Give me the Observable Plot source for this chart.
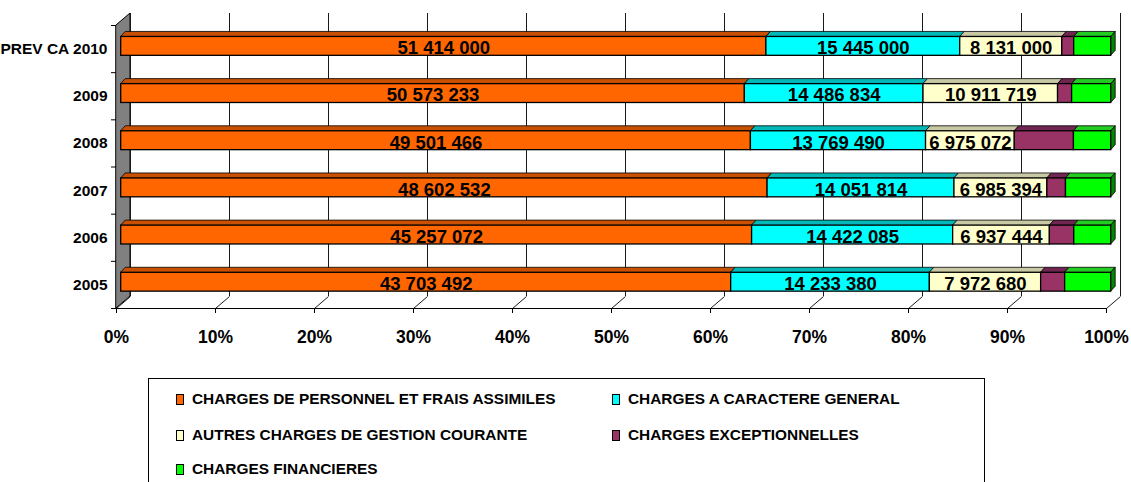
<!DOCTYPE html>
<html><head><meta charset="utf-8">
<script src="https://cdn.jsdelivr.net/npm/d3@7"></script>
<script src="https://cdn.jsdelivr.net/npm/@observablehq/plot@0.6"></script>
<style>
body{margin:0;background:#fff;}
#wrap{position:relative;width:1131px;height:482px;overflow:hidden;font-family:"Liberation Sans",Arial,sans-serif;}
#chart{position:absolute;left:0;top:0;}
#legend{position:absolute;left:148px;top:378px;width:837px;height:140px;border:1px solid #000;box-sizing:border-box;}
.item{position:absolute;display:flex;align-items:center;font-weight:bold;font-size:15.4px;white-space:nowrap;color:#000;height:16px;}
.sw{width:8px;height:11px;border:1px solid #000;margin-right:8px;box-sizing:border-box;flex:none;}
</style></head><body><div id="wrap"><div id="chart"></div><div id="legend"></div></div>
<script>
// ---- data ----
const categories = ["2005", "2006", "2007", "2008", "2009", "PREV CA 2010"];
const seriesNames = [
  "CHARGES DE PERSONNEL ET FRAIS ASSIMILES",
  "CHARGES A CARACTERE GENERAL",
  "AUTRES CHARGES DE GESTION COURANTE",
  "CHARGES EXCEPTIONNELLES",
  "CHARGES FINANCIERES"
];
const personnel      = [43703492, 45257072, 48602532, 49501466, 50573233, 51414000];
const caractereGen   = [14233380, 14422085, 14051814, 13769490, 14486834, 15445000];
const autresCharges  = [7972680, 6937444, 6985394, 6975072, 10911719, 8131000];
const exceptionnelles = [1720000, 1750000, 1400000, 4650000, 1140000, 950000];   // estimated (unlabelled)
const financieres    = [3300000, 2650000, 3400000, 2930000, 3170000, 2950000];   // estimated (unlabelled)
const labelled = [true, true, true, false, false];
const xTicks = [0, 10, 20, 30, 40, 50, 60, 70, 80, 90, 100];

const frontColors = ["#FF6600", "#00FFFF", "#FFFFCC", "#993366", "#00FF00"];
const topColors   = ["#C85000", "#00B8B8", "#C8C8A4", "#702650", "#22CC22"];
const sideGreen   = "#008800";

// ---- geometry ----
const W = 1131, H = 370, mL = 116, mR = 25, mT = 25, mB = 62;
const kx = (W - mL - mR) / 100;   // px per percent
const ky = (H - mT - mB) / 6;     // px per category unit
const WDX = 14 / kx, WDY = 12 / ky;    // wall depth
const BDX = 4.5 / kx, BDY = 5 / ky;    // bar depth
const BFX = 4.7, BFY = -2.7;           // bar front plane offset (px)
const hh = 0.2;                        // half bar height (category units)

const seriesVals = [personnel, caractereGen, autresCharges, exceptionnelles, financieres];
const segs = [];
categories.forEach((c, i) => {
  const total = d3.sum(seriesVals, s => s[i]);
  let acc = 0;
  seriesVals.forEach((s, k) => {
    const a = acc / total * 100;
    acc += s[i];
    const b = acc / total * 100;
    segs.push({i, k, a, b, v: s[i]});
  });
});
const topPts = segs.flatMap(d => [
  {key: d.i + "-" + d.k, k: d.k, y: d.i + hh, x1: d.a, x2: d.b},
  {key: d.i + "-" + d.k, k: d.k, y: d.i + hh + BDY, x1: d.a + BDX, x2: d.b + BDX}
]);
const sidePts = categories.flatMap((c, i) => [
  {i, x: 100, y1: i - hh, y2: i + hh},
  {i, x: 100 + BDX, y1: i - hh + BDY, y2: i + hh + BDY}
]);
const fmt = v => d3.format(",")(v).replace(/,/g, " ");
const boundaries = d3.range(7).map(j => j - 0.5);
const FONT = '"Liberation Sans",Arial,sans-serif';

const chart = Plot.plot({
  width: W, height: H,
  marginLeft: mL, marginRight: mR, marginTop: mT, marginBottom: mB,
  x: {domain: [0, 100], axis: null},
  y: {domain: [-0.5, 5.5], axis: null},
  color: {type: "identity"},
  style: {fontFamily: FONT, fontWeight: "bold", color: "#000", background: "#fff"},
  marks: [
    // left wall
    Plot.areaY([{x: 0, y1: -0.5, y2: 5.5}, {x: WDX, y1: -0.5 + WDY, y2: 5.5 + WDY}],
      {x: "x", y1: "y1", y2: "y2", fill: "#808080", stroke: "#000", strokeWidth: 1}),
    // back wall gridlines
    Plot.ruleX(xTicks, {x: d => d + WDX, y1: -0.5 + WDY, y2: 5.5 + WDY, stroke: "#1a1a1a", strokeWidth: 1}),
    // floor diagonals
    Plot.link(xTicks, {x1: d => d, y1: -0.5, x2: d => d + WDX, y2: -0.5 + WDY, stroke: "#1a1a1a", strokeWidth: 1}),
    // floor front line
    Plot.ruleY([-0.5], {x1: 0, x2: 100, stroke: "#000", strokeWidth: 1}),
    // x axis
    Plot.axisX(xTicks, {tickSize: 5, tickPadding: 17, tickFormat: d => d + "%", fontSize: 17.5, fontWeight: "bold", label: null}),
    // category boundary ticks
    Plot.ruleY(boundaries, {x1: -5 / kx, x2: 0, stroke: "#000"}),
    // category labels
    Plot.axisY([0, 1, 2, 3, 4, 5], {tickSize: 0, tickPadding: 9, tickFormat: i => categories[i], fontSize: 15.5, fontWeight: "bold", letterSpacing: -0.4, label: null}),
    // bar top faces
    Plot.areaX(topPts, {y: "y", x1: "x1", x2: "x2", z: "key", fill: d => topColors[d.k], stroke: "#000", strokeWidth: 0.8, dx: BFX, dy: BFY, curve: "linear"}),
    // green end side faces
    Plot.areaY(sidePts, {x: "x", y1: "y1", y2: "y2", z: "i", fill: sideGreen, stroke: "#000", strokeWidth: 0.8, dx: BFX, dy: BFY}),
    // bar front faces
    Plot.rect(segs, {x1: "a", x2: "b", y1: d => d.i - hh, y2: d => d.i + hh, fill: d => frontColors[d.k], stroke: "#000", strokeWidth: 1.3, dx: BFX, dy: BFY}),
    // value labels
    Plot.text(segs.filter(d => labelled[d.k]), {x: d => (d.a + d.b) / 2, y: "i", text: d => fmt(d.v), fontSize: 18.5, fontWeight: "bold", fill: "#000", dx: BFX, dy: BFY + 2})
  ]
});
document.getElementById("chart").appendChild(chart);

// ---- legend ----
const legend = document.getElementById("legend");
const legendPos = [[176, 399], [612, 399], [176, 435], [612, 435], [176, 469]];
seriesNames.forEach((name, k) => {
  const it = document.createElement("div");
  it.className = "item";
  it.style.left = (legendPos[k][0] - 149) + "px";
  it.style.top = (legendPos[k][1] - 379 - 8) + "px";
  const sw = document.createElement("span");
  sw.className = "sw";
  sw.style.background = frontColors[k];
  const tx = document.createElement("span");
  tx.textContent = name;
  it.appendChild(sw); it.appendChild(tx);
  legend.appendChild(it);
});
</script>
</body></html>
